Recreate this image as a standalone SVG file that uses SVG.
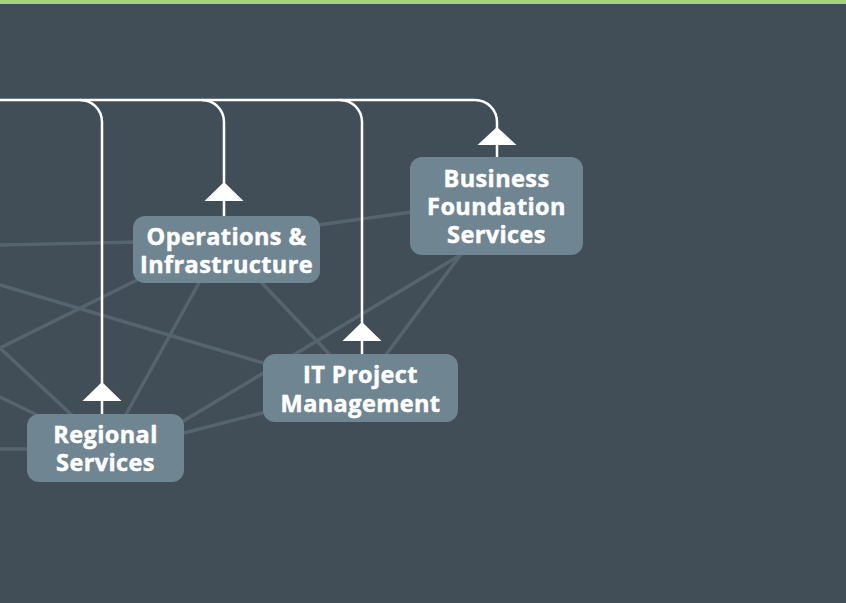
<svg xmlns="http://www.w3.org/2000/svg" width="846" height="603" viewBox="0 0 846 603">
  <style>
    .net { stroke: #55646e; stroke-width: 3.5; fill: none; stroke-linecap: round; }
    .wire { stroke: #ffffff; stroke-width: 2.5; fill: none; }
    .head { fill: #ffffff; }
    .box { fill: #6f8592; }
    .lbl { fill: #ffffff; stroke: #ffffff; stroke-width: 0.5px; font-family: "Open Sans", "Liberation Sans", sans-serif; font-weight: 700; font-size: 23.5px; text-anchor: middle; letter-spacing: 0.4px; }
  </style>
  <rect x="0" y="0" width="846" height="603" fill="#414e58"/>
  <rect x="0" y="0" width="846" height="4" fill="#a5d17c"/>

  <g id="network">
    <line class="net" x1="0" y1="245" x2="140" y2="242"/>
    <line class="net" x1="0" y1="285" x2="270" y2="365"/>
    <line class="net" x1="0" y1="348" x2="145" y2="276"/>
    <line class="net" x1="0" y1="348" x2="75" y2="418"/>
    <line class="net" x1="200" y1="281" x2="124" y2="418"/>
    <line class="net" x1="0" y1="397" x2="35" y2="414"/>
    <line class="net" x1="0" y1="449" x2="30" y2="449"/>
    <line class="net" x1="262" y1="283" x2="332" y2="357"/>
    <line class="net" x1="180" y1="423" x2="462" y2="254"/>
    <line class="net" x1="180" y1="434" x2="266" y2="412"/>
    <line class="net" x1="385" y1="356" x2="462" y2="253"/>
    <line class="net" x1="318" y1="225" x2="412" y2="212"/>
  </g>

  <g id="connectors">
    <path class="wire" d="M0,100 H475 A22,22 0 0 1 497,122 V157"/>
    <path class="wire" d="M80,100 A22,22 0 0 1 102,122 V414"/>
    <path class="wire" d="M202,100 A22,22 0 0 1 224,122 V216"/>
    <path class="wire" d="M340,100 A22,22 0 0 1 362,122 V354"/>
    <polygon class="head" points="497,127 516.5,145 477.5,145"/>
    <polygon class="head" points="224,182 243.5,201 204.5,201"/>
    <polygon class="head" points="362,322 381.5,341 342.5,341"/>
    <polygon class="head" points="102,382 121.5,401 82.5,401"/>
  </g>

  <g id="business-foundation-services">
    <rect class="box" x="410" y="157" width="173" height="98" rx="12"/>
    <text class="lbl" x="496.5" y="187">Business</text>
    <text class="lbl" x="496.5" y="215">Foundation</text>
    <text class="lbl" x="496.5" y="243">Services</text>
  </g>

  <g id="operations-infrastructure">
    <rect class="box" x="133" y="216" width="187" height="67" rx="12"/>
    <text class="lbl" x="226.5" y="245">Operations &amp;</text>
    <text class="lbl" x="226.5" y="273">Infrastructure</text>
  </g>

  <g id="it-project-management">
    <rect class="box" x="263" y="354" width="195" height="68" rx="12"/>
    <text class="lbl" x="360.5" y="383">IT Project</text>
    <text class="lbl" x="360.5" y="412">Management</text>
  </g>

  <g id="regional-services">
    <rect class="box" x="27" y="414" width="157" height="68" rx="12"/>
    <text class="lbl" x="105.5" y="443">Regional</text>
    <text class="lbl" x="105.5" y="471">Services</text>
  </g>
</svg>
